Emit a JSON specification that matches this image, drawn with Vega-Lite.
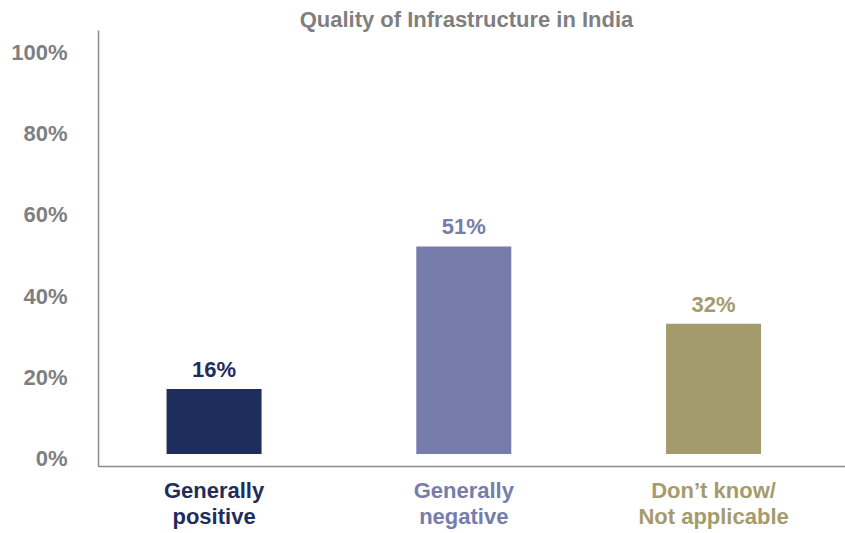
{
  "$schema": "https://vega.github.io/schema/vega-lite/v6.json",
  "width": 747,
  "height": 436,
  "autosize": "none",
  "padding": {"left": 98, "top": 30, "right": 0, "bottom": 67},
  "background": "white",
  "config": {"view": {"stroke": null}, "font": "Liberation Sans"},
  "title": {
    "text": "Quality of Infrastructure in India",
    "font": "Liberation Sans",
    "fontSize": 22,
    "fontWeight": "bold",
    "color": "#7f7f7f",
    "anchor": "middle",
    "dx": -5,
    "dy": 4,
    "offset": 2
  },
  "data": {
    "values": [
      {"category": "Generally positive", "value": 16, "label": "16%"},
      {"category": "Generally negative", "value": 51, "label": "51%"},
      {"category": "Don’t know/ Not applicable", "value": 32, "label": "32%"}
    ]
  },
  "encoding": {
    "x": {
      "field": "category",
      "type": "nominal",
      "sort": null,
      "scale": {"paddingInner": 0.6196, "paddingOuter": 0.3053, "align": 0.4495},
      "axis": {
        "title": null,
        "labelAngle": 0,
        "ticks": false,
        "domainColor": "#8c8c8c",
        "domainWidth": 1.5,
        "labelFont": "Liberation Sans",
        "labelFontSize": 22,
        "labelFontWeight": "bold",
        "labelPadding": 14,
        "labelLineHeight": 26,
        "labelColor": {
          "condition": [
            {"test": "datum.value == 'Generally positive'", "value": "#1f2d5c"},
            {"test": "datum.value == 'Generally negative'", "value": "#767dab"}
          ],
          "value": "#a49b6c"
        },
        "labelExpr": "datum.value == 'Generally positive' ? ['Generally', 'positive'] : datum.value == 'Generally negative' ? ['Generally', 'negative'] : ['Don’t know/', 'Not applicable']"
      }
    },
    "color": {
      "field": "category",
      "type": "nominal",
      "scale": {
        "domain": ["Generally positive", "Generally negative", "Don’t know/ Not applicable"],
        "range": ["#1f2d5c", "#767dab", "#a49b6c"]
      },
      "legend": null
    }
  },
  "layer": [
    {
      "mark": {"type": "bar"},
      "encoding": {
        "y": {
          "field": "value",
          "type": "quantitative",
          "scale": {"domain": [-2.95, 104.2], "nice": false, "zero": false},
          "axis": {
            "title": null,
            "values": [0, 20, 40, 60, 80, 100],
            "labelExpr": "datum.value + '%'",
            "grid": false,
            "ticks": false,
            "domainColor": "#8c8c8c",
            "domainWidth": 1.5,
            "labelFont": "Liberation Sans",
            "labelFontSize": 22,
            "labelFontWeight": "bold",
            "labelColor": "#7f7f7f",
            "labelPadding": 31,
            "labelOffset": 5
          }
        },
        "y2": {"datum": 0}
      }
    },
    {
      "mark": {"type": "text", "baseline": "bottom", "dy": -7, "fontSize": 22, "fontWeight": "bold", "font": "Liberation Sans"},
      "encoding": {
        "y": {"field": "value", "type": "quantitative"},
        "text": {"field": "label"}
      }
    }
  ]
}
